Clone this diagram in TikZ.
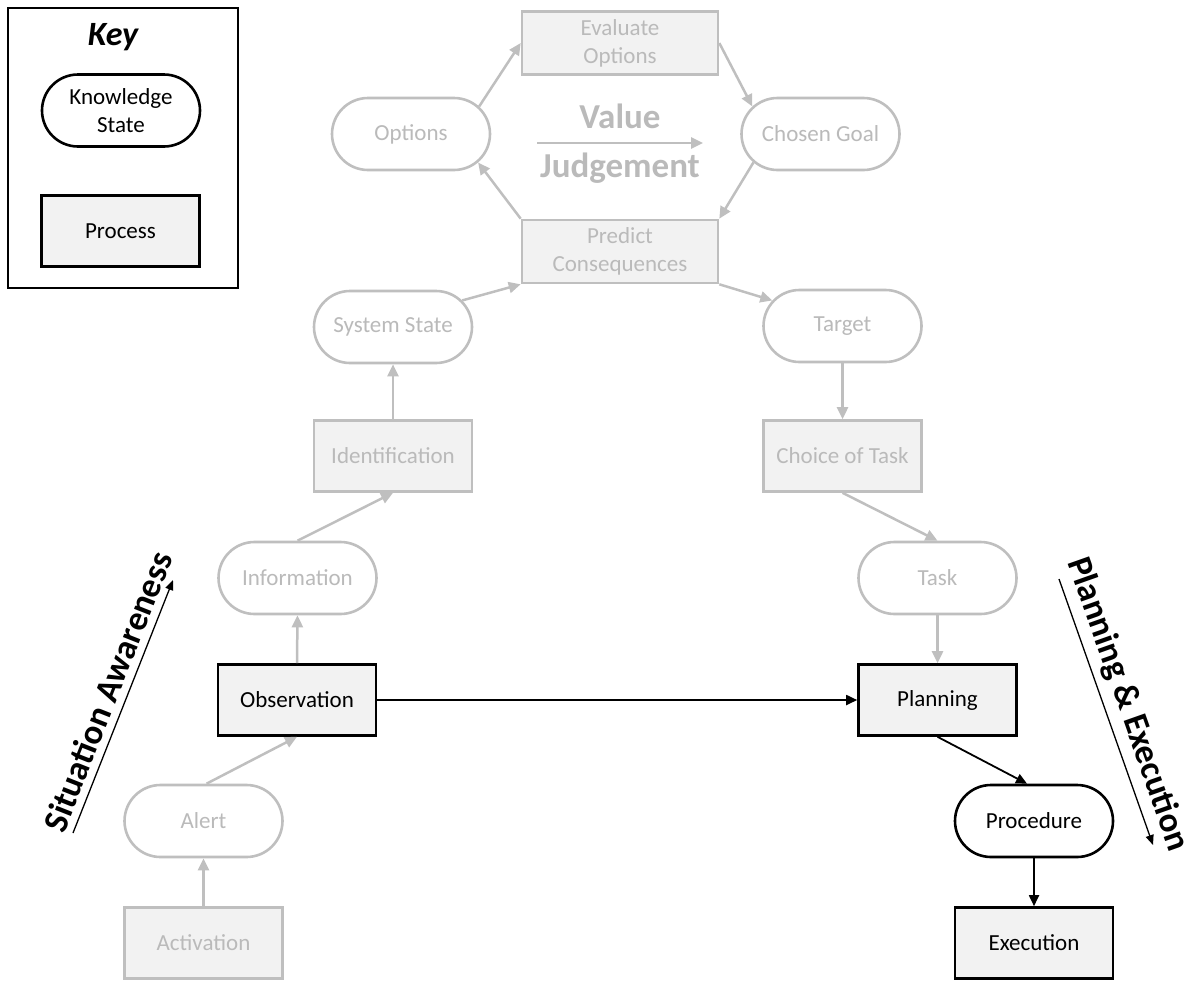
\documentclass[tikz,border=0pt]{standalone}
\usepackage{fontspec}
\setmainfont{Carlito}
\usetikzlibrary{shapes.misc,arrows.meta}
\definecolor{fade}{RGB}{191,191,191}
\definecolor{fadetext}{RGB}{186,186,186}
\definecolor{boxfill}{RGB}{242,242,242}

\begin{document}
\begin{tikzpicture}[x=1pt,y=1pt,
  state/.style={rounded rectangle, draw, line width=2.6pt, fill=white,
    minimum width=158pt, minimum height=72pt, inner sep=0pt,
    font=\fontsize{23}{28}\selectfont, align=center},
  procbox/.style={rectangle, draw, line width=2.6pt, fill=boxfill,
    minimum width=158pt, minimum height=71pt, inner sep=0pt,
    font=\fontsize{23}{28}\selectfont, align=center},
  widebox/.style={procbox, minimum width=196pt, minimum height=63pt},
  faded/.style={draw=fade, text=fadetext},
  active/.style={draw=black, text=black},
  fadearrow/.style={draw=fade, line width=2.5pt, -{Triangle[length=12pt,width=11pt]}},
  darkarrow/.style={draw=black, line width=1.8pt, -{Triangle[length=11pt,width=10pt]}},
  sidearrow/.style={draw=black, line width=1.3pt, -{Triangle[length=10pt,width=8pt]}},
  sidelabel/.style={font=\fontsize{35}{42}\selectfont\bfseries, text=black,
    sloped, above, inner sep=7pt},
  bigfade/.style={font=\fontsize{35}{40}\selectfont\bfseries, text=fadetext}
]
\useasboundingbox (0,0) rectangle (1199,-983);

% legend
\node[draw, line width=2pt, minimum width=230pt, minimum height=280pt,
  inner sep=0pt, anchor=north west] (key) at (7,-7) {};
\node[font=\fontsize{34}{40}\selectfont\bfseries\itshape] (keytitle) at (113,-37) {Key};
\node[state, active] (keystate) at (121,-110.5) {Knowledge\\State};
\node[procbox, active] (keyproc) at (120.5,-231) {Process};

% top loop: value judgement
\node[widebox, faded] (eval) at (620,-43) {Evaluate\\Options};
\node[state, faded] (opts) at (411,-134) {Options};
\node[state, faded] (goal) at (820.5,-134) {Chosen Goal};
\node[widebox, faded] (pred) at (620,-251.5) {Predict\\Consequences};
\node[bigfade] (val) at (620,-116) {Value};
\node[bigfade] (jud) at (620,-168) {Judgement};
\coordinate (vjl) at (537,-143);
\coordinate (vjr) at (703,-143);

% left leg
\node[state, faded] (sys) at (393,-327) {System State};
\node[procbox, faded] (ident) at (393,-456) {Identification};
\node[state, faded] (info) at (297.5,-578) {Information};
\node[procbox, active] (obs) at (297,-700) {Observation};
\node[state, faded] (alert) at (203.5,-821) {Alert};
\node[procbox, faded] (act) at (203.5,-943) {Activation};

% right leg
\node[state, faded] (tgt) at (842.5,-326) {Target};
\node[procbox, faded] (choice) at (842.5,-456) {Choice of Task};
\node[state, faded] (task) at (937.5,-578) {Task};
\node[procbox, active] (plan) at (937.5,-700) {Planning};
\node[state, active] (proc) at (1034,-821) {Procedure};
\node[procbox, active] (exec) at (1034,-943) {Execution};

% faded connectors
\draw[fadearrow] (act.north) -- (alert.south);
\draw[fadearrow] ([xshift=3pt]alert.north) -- (obs.south);
\draw[fadearrow] (obs.north) -- (info.south);
\draw[fadearrow] (info.north) -- (ident.south);
\draw[fadearrow] (ident.north) -- (sys.south);
\draw[fadearrow] (sys.21) -- (pred.south west);
\draw[fadearrow] (pred.north west) -- (opts.-23);
\draw[fadearrow] (opts.22) -- (eval.west);
\draw[fadearrow] (eval.east) -- (goal.158);
\draw[fadearrow] (goal.203) -- (pred.north east);
\draw[fadearrow] (pred.south east) -- (tgt.160);
\draw[fadearrow] (tgt.south) -- (choice.north);
\draw[fadearrow] (choice.south) -- (task.north);
\draw[fadearrow] (task.south) -- (plan.north);
\draw[fadearrow] (vjl) -- (vjr);

% active connectors
\draw[darkarrow] (obs.east) -- (plan.west);
\draw[darkarrow] (plan.south) -- ([xshift=-7pt]proc.north);
\draw[darkarrow] (proc.south) -- (exec.north);

% side arrows
\coordinate (saa) at (73,-833);
\coordinate (sab) at (173,-580);
\coordinate (pea) at (1059,-579);
\coordinate (peb) at (1153,-845);
\draw[sidearrow] (saa) -- (sab) node[pos=0.53, sidelabel] (salabel) {Situation Awareness};
\draw[sidearrow] (pea) -- (peb) node[pos=0.5, sidelabel] (pelabel) {Planning \& Execution};
\end{tikzpicture}
\end{document}
